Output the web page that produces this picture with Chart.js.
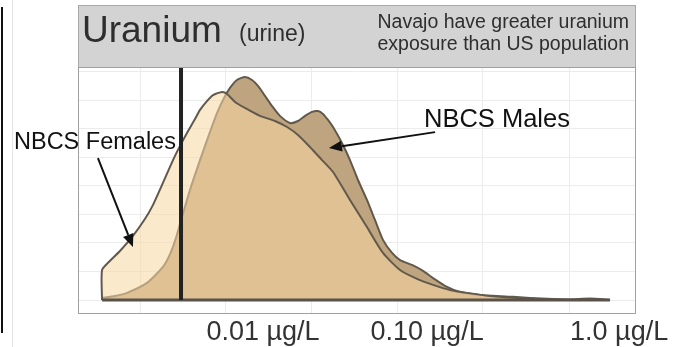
<!DOCTYPE html>
<html><head><meta charset="utf-8">
<script src="https://cdn.jsdelivr.net/npm/chart.js@4.4.1/dist/chart.umd.min.js"></script>
<style>
html,body{margin:0;padding:0;background:#fff;}
#wrap{position:relative;width:673px;height:347px;overflow:hidden;}
canvas{position:absolute;left:0;top:0;}
#frameL{position:absolute;left:1px;top:7px;width:2px;height:326px;background:#111;}
#frameG{position:absolute;left:12px;top:0;width:1px;height:347px;background:#e4e4e4;}
</style></head><body>
<div id="wrap"><canvas id="c" width="673" height="347"></canvas><div id="frameL"></div><div id="frameG"></div></div>
<script>
// x = log10(uranium concentration, µg/L) ; y = relative density
const femaleLogConc = [-3.025,-3.025,-2.975,-2.911,-2.828,-2.752,-2.701,-2.637,-2.573,-2.529,-2.484,-2.433,-2.401,-2.357,-2.318,-2.261,-2.229,-2.178,-2.115,-2.019,-1.924,-1.847,-1.777,-1.701,-1.624,-1.554,-1.446,-1.338,-1.236,-1.127,-1.019,-0.917,-0.809,-0.701,-0.554,-0.382,-0.172,0.019];
const femaleDensity = [0,1.05,1.37,1.72,2.25,2.84,3.33,4.11,4.91,5.40,5.86,6.35,6.67,6.98,7.19,7.30,7.23,6.95,6.74,6.46,6.28,6.07,5.79,5.37,4.91,4.49,3.51,2.56,1.65,1.05,0.74,0.53,0.35,0.25,0.14,0.07,0.02,0];
const maleLogConc = [-3.025,-2.943,-2.866,-2.739,-2.637,-2.592,-2.554,-2.516,-2.465,-2.401,-2.338,-2.293,-2.248,-2.210,-2.166,-2.115,-2.070,-2.032,-1.987,-1.943,-1.892,-1.828,-1.777,-1.732,-1.688,-1.650,-1.618,-1.586,-1.554,-1.497,-1.446,-1.395,-1.338,-1.287,-1.236,-1.178,-1.127,-1.051,-0.981,-0.917,-0.828,-0.745,-0.618,-0.408,-0.191,-0.045,0.083,0.210];
const maleDensity = [0.07,0.14,0.25,0.60,1.16,1.61,2.18,2.91,3.86,4.91,5.89,6.56,7.09,7.44,7.72,7.82,7.72,7.51,7.16,6.81,6.46,6.21,6.28,6.46,6.60,6.63,6.53,6.32,6.07,5.51,4.91,4.21,3.51,2.81,2.11,1.65,1.40,1.23,1.02,0.77,0.46,0.28,0.18,0.11,0.04,0.02,0.05,0];
const referenceLogConc = -2.522;           // vertical reference line (US population)
const xRange = [-3.178, 0.369];
const yRange = [-0.456, 8.175];
const gridLogConc = [-2.783,-2.236,-1.688,-1.146,-0.599,-0.051];
const tickLogConc = [-2, -0.955, 0.268];
const tickLabels = ['0.01 µg/L', '0.10 µg/L', '1.0 µg/L'];
const titleMain = 'Uranium';
const titleSub = '(urine)';
const noteLines = ['Navajo have greater uranium', 'exposure than US population'];
const seriesLabels = ['NBCS Females', 'NBCS Males'];
const labelAnchors = [[-3.070, 5.51], [-0.510, 6.32]];
const arrowFrom = [[-3.051, 4.98], [-0.904, 5.89]];
const arrowTo = [[-2.828, 1.86], [-1.580, 5.33]];

const zip = (xs, ys) => xs.map((x, i) => ({x, y: ys[i]}));
const FONT = '"Liberation Sans", Arial, Helvetica, sans-serif';
const OUT = '#62594d';

const deco = {
  id: 'deco',
  beforeDraw(chart) {
    const {ctx, chartArea: a} = chart;
    ctx.save();
    ctx.fillStyle = '#d3d3d3';
    ctx.fillRect(a.left, 5, a.right - a.left, a.top - 5);
    ctx.strokeStyle = '#a8a8a8'; ctx.lineWidth = 1;
    ctx.strokeRect(a.left + 0.5, 5.5, a.right - a.left, a.top - 5);
    ctx.restore();
  },
  afterDraw(chart) {
    const {ctx, chartArea: a, scales} = chart;
    const px = v => scales.x.getPixelForValue(v), py = v => scales.y.getPixelForValue(v);
    ctx.save();
    ctx.strokeStyle = '#a0a0a0'; ctx.lineWidth = 1;
    ctx.strokeRect(a.left + 0.5, a.top + 0.5, a.right - a.left, a.bottom - a.top);
    // title
    ctx.fillStyle = '#2e2e2e'; ctx.textBaseline = 'alphabetic'; ctx.textAlign = 'left';
    ctx.font = '37px ' + FONT; ctx.fillText(titleMain, a.left + 4, 42);
    ctx.font = '23px ' + FONT; ctx.fillText(titleSub, a.left + 161, 41);
    ctx.textAlign = 'right'; ctx.font = '19.5px ' + FONT;
    ctx.fillText(noteLines[0], a.right - 6, 28);
    ctx.fillText(noteLines[1], a.right - 6, 50);
    // series labels
    ctx.fillStyle = '#111'; ctx.textAlign = 'center'; ctx.textBaseline = 'middle';
    const sizes = [23.5, 25.5];
    seriesLabels.forEach((t, i) => {
      ctx.font = sizes[i] + 'px ' + FONT;
      ctx.fillText(t, px(labelAnchors[i][0]), py(labelAnchors[i][1]));
    });
    // arrows
    ctx.strokeStyle = '#111'; ctx.fillStyle = '#111'; ctx.lineWidth = 2;
    arrowFrom.forEach((f, i) => {
      const x0 = px(f[0]), y0 = py(f[1]), x1 = px(arrowTo[i][0]), y1 = py(arrowTo[i][1]);
      const ang = Math.atan2(y1 - y0, x1 - x0), L = 13, W = 5.5;
      const bx = x1 - L * Math.cos(ang), by = y1 - L * Math.sin(ang);
      ctx.beginPath(); ctx.moveTo(x0, y0); ctx.lineTo(bx, by); ctx.stroke();
      ctx.beginPath(); ctx.moveTo(x1, y1);
      ctx.lineTo(bx + W * Math.sin(ang), by - W * Math.cos(ang));
      ctx.lineTo(bx - W * Math.sin(ang), by + W * Math.cos(ang));
      ctx.closePath(); ctx.fill();
    });
    ctx.restore();
  }
};

new Chart(document.getElementById('c'), {
  type: 'line',
  data: {
    datasets: [
      {label: 'reference', data: [{x: referenceLogConc, y: 0}, {x: referenceLogConc, y: yRange[1]}],
       borderColor: '#222', borderWidth: 4, fill: false, pointRadius: 0},
      {label: 'baseline', data: [{x: maleLogConc[0], y: 0}, {x: maleLogConc[maleLogConc.length - 1], y: 0}],
       borderColor: '#58524a', borderWidth: 3, fill: false, pointRadius: 0},
      {label: seriesLabels[0], data: zip(femaleLogConc, femaleDensity),
       borderColor: OUT, borderWidth: 2, backgroundColor: 'rgba(248,216,164,0.56)', fill: 'origin', pointRadius: 0, tension: 0.2},
      {label: seriesLabels[1], data: zip(maleLogConc, maleDensity),
       borderColor: OUT, borderWidth: 2, backgroundColor: '#bfa57f', fill: 'origin', pointRadius: 0, tension: 0.2}
    ]
  },
  options: {
    responsive: false, animation: false,
    layout: {padding: {left: 78, top: 67, right: 38, bottom: 0}},
    plugins: {legend: {display: false}, tooltip: {enabled: false}},
    scales: {
      x: {type: 'linear', min: xRange[0], max: xRange[1], position: 'bottom',
          border: {display: false}, grid: {color: '#ececec', drawTicks: false},
          ticks: {display: false},
          afterFit: s => { s.height = 0; },
          afterBuildTicks: s => { s.ticks = gridLogConc.map(v => ({value: v})); }},
      xLabels: {type: 'linear', min: xRange[0], max: xRange[1], position: 'bottom',
          border: {display: false}, grid: {display: false},
          ticks: {padding: -5, autoSkip: false, maxRotation: 0, color: '#333',
                  font: {family: FONT, size: 27}, callback: (v, i) => tickLabels[i]},
          afterFit: s => { s.height = 34; },
          afterBuildTicks: s => { s.ticks = tickLogConc.map(v => ({value: v})); }},
      y: {type: 'linear', min: yRange[0], max: yRange[1],
          border: {display: false}, grid: {color: '#ececec', drawTicks: false},
          ticks: {display: false, stepSize: 1, includeBounds: false},
          afterFit: s => { s.width = 0; }}
    }
  },
  plugins: [deco]
});
</script></body></html>
